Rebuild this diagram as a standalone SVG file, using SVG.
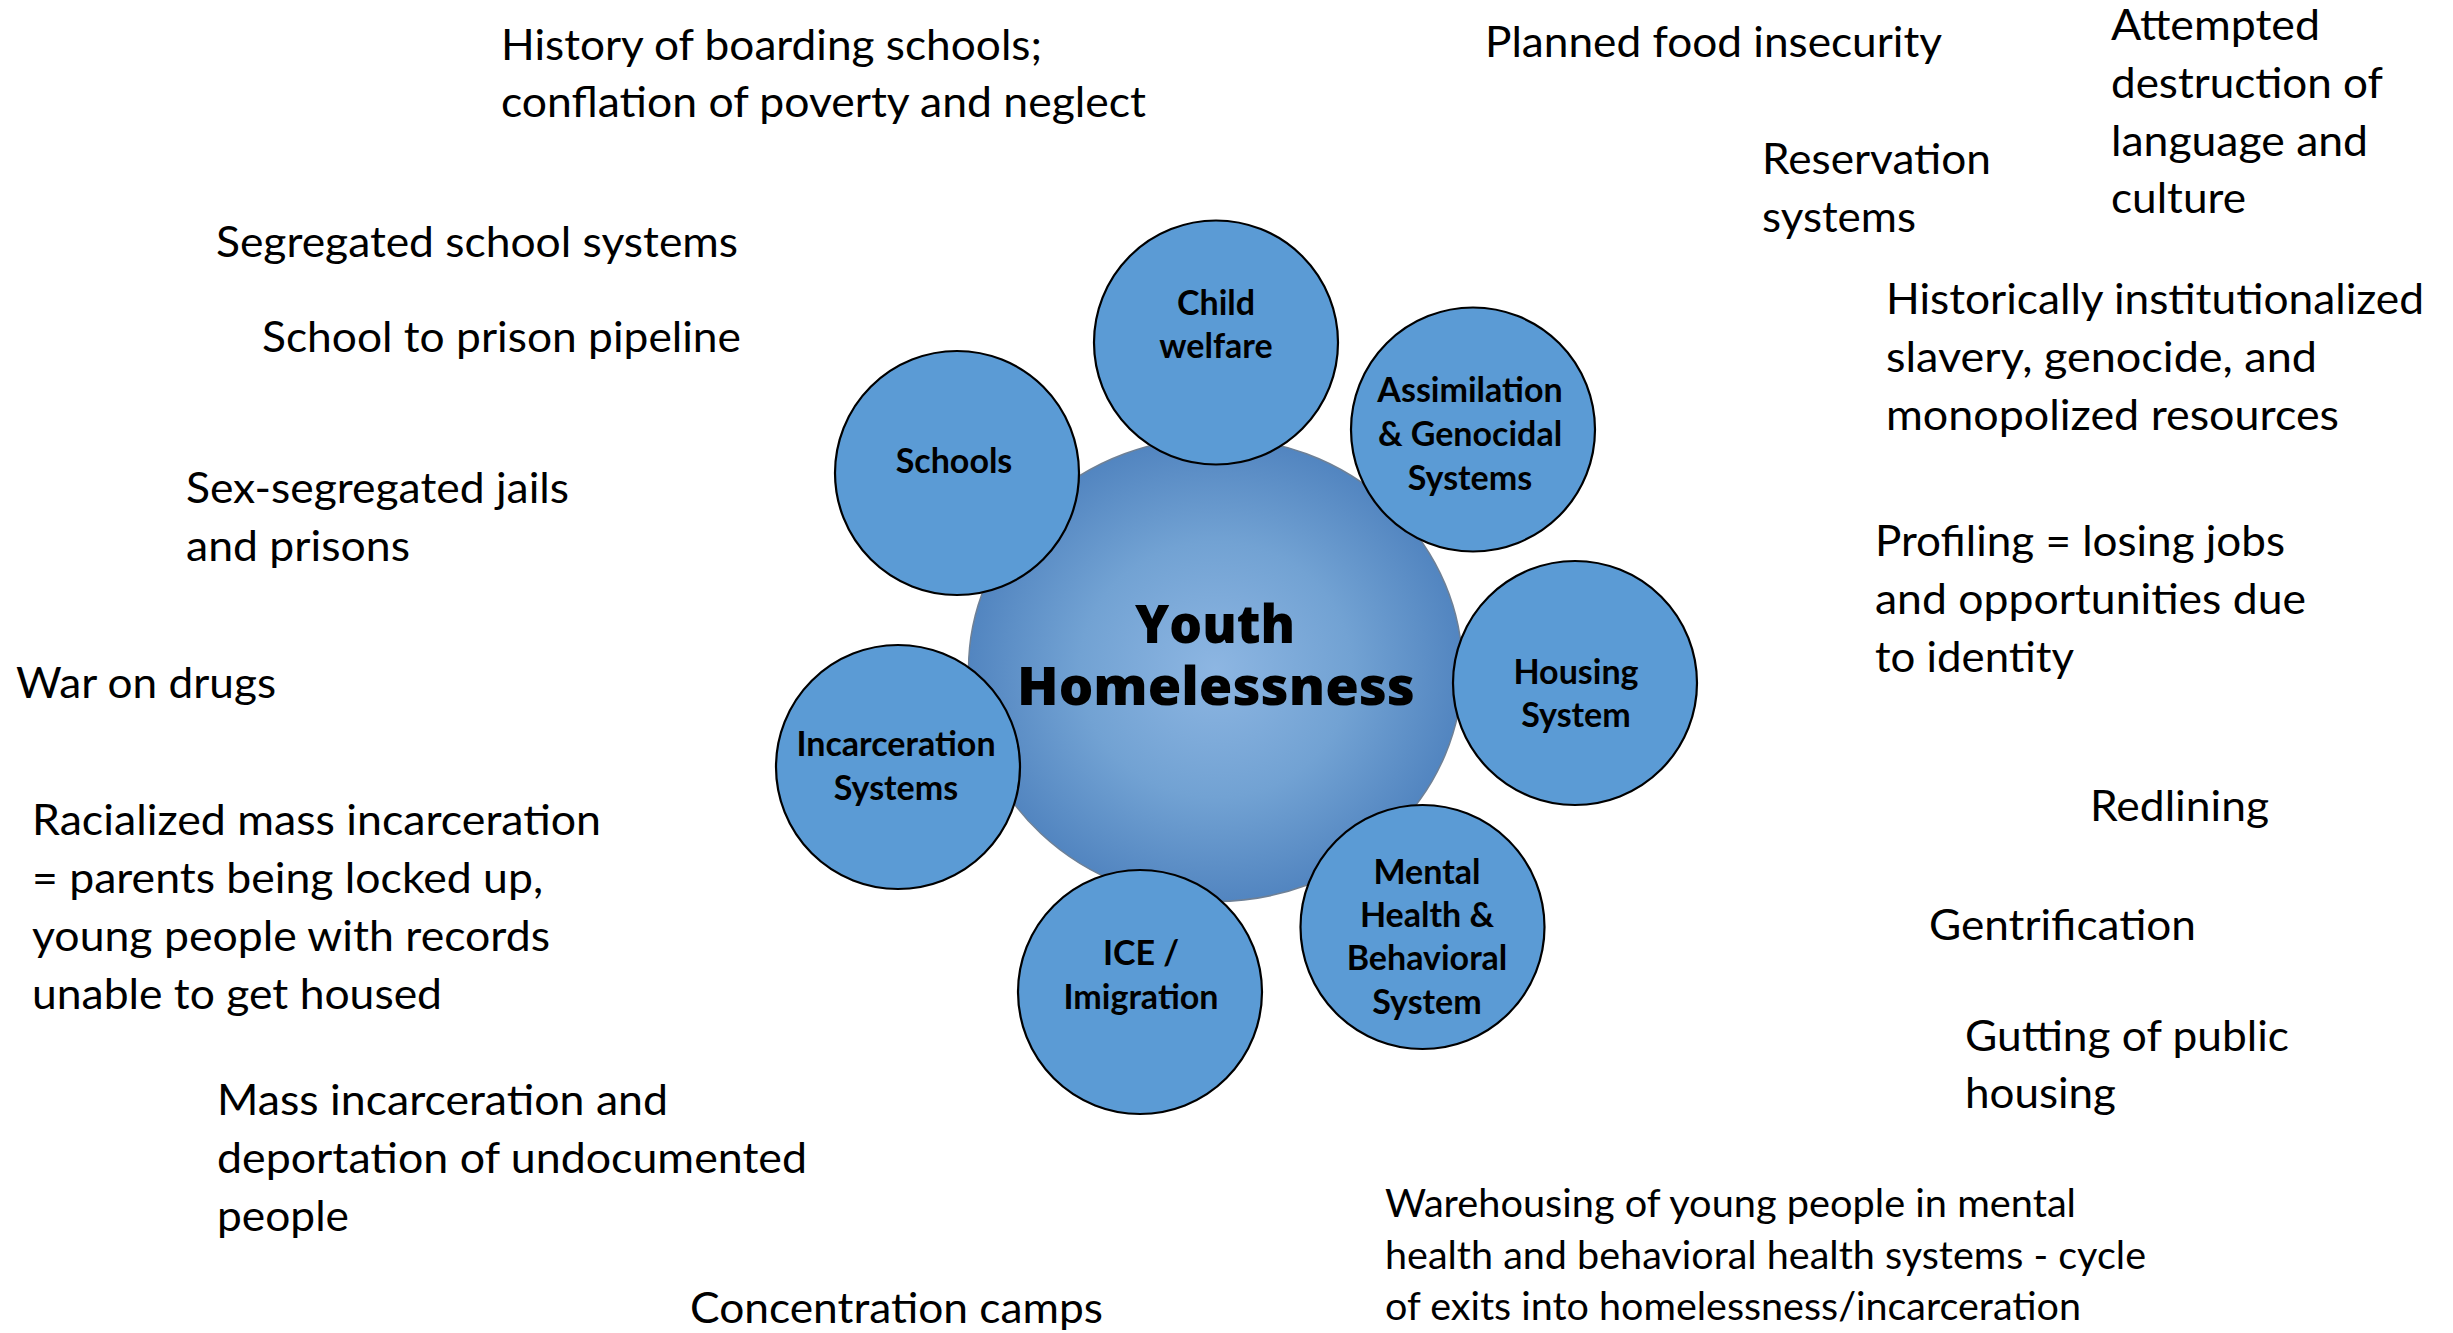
<svg xmlns="http://www.w3.org/2000/svg" width="2453" height="1333" viewBox="0 0 2453 1333">
<defs>
<radialGradient id="bigGrad" cx="50%" cy="50%" r="50%">
<stop offset="0%" stop-color="#8DB6E2"/>
<stop offset="55%" stop-color="#72A2D3"/>
<stop offset="100%" stop-color="#5285C0"/>
</radialGradient>
<style>
.sat{fill:#5B9BD5;stroke:#000;stroke-width:2.2}
.big{fill:url(#bigGrad);stroke:#6E8096;stroke-width:1.5}
.lbl{font-family:Lato,"Liberation Sans",sans-serif;font-weight:bold;font-size:34px;fill:#000;text-anchor:middle}
.title{font-family:"Open Sans","Liberation Sans",sans-serif;font-weight:800;font-size:53px;fill:#000;text-anchor:middle}
.t{font-family:Lato,"Liberation Sans",sans-serif;font-size:42px;fill:#000}
.ts{font-family:Lato,"Liberation Sans",sans-serif;font-size:38px;fill:#000}
</style>
</defs>
<rect width="2453" height="1333" fill="#fff"/>
<g id="connectors"></g>
<g id="youth-homelessness">
<ellipse class="big" cx="1215.5" cy="669.5" rx="247" ry="232"/>
<text class="title" x="1215" y="643" textLength="160" lengthAdjust="spacingAndGlyphs">Youth</text>
<text class="title" x="1216" y="705" textLength="398" lengthAdjust="spacingAndGlyphs">Homelessness</text>
</g>
<g id="child-welfare">
<circle class="sat" cx="1216" cy="342.5" r="122"/>
<text class="lbl" x="1216" y="315">Child</text>
<text class="lbl" x="1216" y="358">welfare</text>
</g>
<g id="assimilation">
<circle class="sat" cx="1473" cy="429.5" r="122"/>
<text class="lbl" x="1470" y="402">Assimilation</text>
<text class="lbl" x="1470" y="446">&amp; Genocidal</text>
<text class="lbl" x="1470" y="490">Systems</text>
</g>
<g id="schools">
<circle class="sat" cx="957" cy="473" r="122"/>
<text class="lbl" x="954" y="473">Schools</text>
</g>
<g id="housing">
<circle class="sat" cx="1575" cy="683" r="122"/>
<text class="lbl" x="1576" y="684">Housing</text>
<text class="lbl" x="1576" y="727">System</text>
</g>
<g id="incarceration">
<circle class="sat" cx="898" cy="767" r="122"/>
<text class="lbl" x="896" y="756">Incarceration</text>
<text class="lbl" x="896" y="800">Systems</text>
</g>
<g id="mental-health">
<circle class="sat" cx="1422.5" cy="927" r="122"/>
<text class="lbl" x="1427" y="884">Mental</text>
<text class="lbl" x="1427" y="927">Health &amp;</text>
<text class="lbl" x="1427" y="970">Behavioral</text>
<text class="lbl" x="1427" y="1014">System</text>
</g>
<g id="ice">
<circle class="sat" cx="1140" cy="992" r="122"/>
<text class="lbl" x="1141" y="965">ICE /</text>
<text class="lbl" x="1141" y="1009">Imigration</text>
</g>
<g id="notes-left">
<text class="t" x="501" y="60" textLength="541" lengthAdjust="spacingAndGlyphs">History of boarding schools;</text>
<text class="t" x="501" y="117" textLength="645" lengthAdjust="spacingAndGlyphs">conflation of poverty and neglect</text>
<text class="t" x="216" y="257" textLength="522" lengthAdjust="spacingAndGlyphs">Segregated school systems</text>
<text class="t" x="262" y="352" textLength="479" lengthAdjust="spacingAndGlyphs">School to prison pipeline</text>
<text class="t" x="186" y="503" textLength="383" lengthAdjust="spacingAndGlyphs">Sex-segregated jails</text>
<text class="t" x="186" y="561" textLength="224" lengthAdjust="spacingAndGlyphs">and prisons</text>
<text class="t" x="16" y="698" textLength="260" lengthAdjust="spacingAndGlyphs">War on drugs</text>
<text class="t" x="32" y="835" textLength="569" lengthAdjust="spacingAndGlyphs">Racialized mass incarceration</text>
<text class="t" x="32" y="893" textLength="511" lengthAdjust="spacingAndGlyphs">= parents being locked up,</text>
<text class="t" x="32" y="951" textLength="518" lengthAdjust="spacingAndGlyphs">young people with records</text>
<text class="t" x="32" y="1009" textLength="410" lengthAdjust="spacingAndGlyphs">unable to get housed</text>
<text class="t" x="217" y="1115" textLength="451" lengthAdjust="spacingAndGlyphs">Mass incarceration and</text>
<text class="t" x="217" y="1173" textLength="590" lengthAdjust="spacingAndGlyphs">deportation of undocumented</text>
<text class="t" x="217" y="1231" textLength="132" lengthAdjust="spacingAndGlyphs">people</text>
<text class="t" x="690" y="1323" textLength="413" lengthAdjust="spacingAndGlyphs">Concentration camps</text>
</g>
<g id="notes-right">
<text class="t" x="1485" y="57" textLength="457" lengthAdjust="spacingAndGlyphs">Planned food insecurity</text>
<text class="t" x="2111" y="40" textLength="209" lengthAdjust="spacingAndGlyphs">Attempted</text>
<text class="t" x="2111" y="98" textLength="272" lengthAdjust="spacingAndGlyphs">destruction of</text>
<text class="t" x="2111" y="156" textLength="257" lengthAdjust="spacingAndGlyphs">language and</text>
<text class="t" x="2111" y="213" textLength="135" lengthAdjust="spacingAndGlyphs">culture</text>
<text class="t" x="1762" y="174" textLength="229" lengthAdjust="spacingAndGlyphs">Reservation</text>
<text class="t" x="1762" y="232" textLength="154" lengthAdjust="spacingAndGlyphs">systems</text>
<text class="t" x="1886" y="314" textLength="538" lengthAdjust="spacingAndGlyphs">Historically institutionalized</text>
<text class="t" x="1886" y="372" textLength="431" lengthAdjust="spacingAndGlyphs">slavery, genocide, and</text>
<text class="t" x="1886" y="430" textLength="453" lengthAdjust="spacingAndGlyphs">monopolized resources</text>
<text class="t" x="1875" y="556" textLength="410" lengthAdjust="spacingAndGlyphs">Profiling = losing jobs</text>
<text class="t" x="1875" y="614" textLength="431" lengthAdjust="spacingAndGlyphs">and opportunities due</text>
<text class="t" x="1875" y="672" textLength="199" lengthAdjust="spacingAndGlyphs">to identity</text>
<text class="t" x="2090" y="821" textLength="179" lengthAdjust="spacingAndGlyphs">Redlining</text>
<text class="t" x="1929" y="940" textLength="267" lengthAdjust="spacingAndGlyphs">Gentrification</text>
<text class="t" x="1965" y="1051" textLength="324" lengthAdjust="spacingAndGlyphs">Gutting of public</text>
<text class="t" x="1965" y="1108" textLength="151" lengthAdjust="spacingAndGlyphs">housing</text>
<text class="ts" x="1385" y="1217" textLength="691" lengthAdjust="spacingAndGlyphs">Warehousing of young people in mental</text>
<text class="ts" x="1385" y="1269" textLength="761" lengthAdjust="spacingAndGlyphs">health and behavioral health systems - cycle</text>
<text class="ts" x="1385" y="1320" textLength="696" lengthAdjust="spacingAndGlyphs">of exits into homelessness/incarceration</text>
</g>
</svg>
